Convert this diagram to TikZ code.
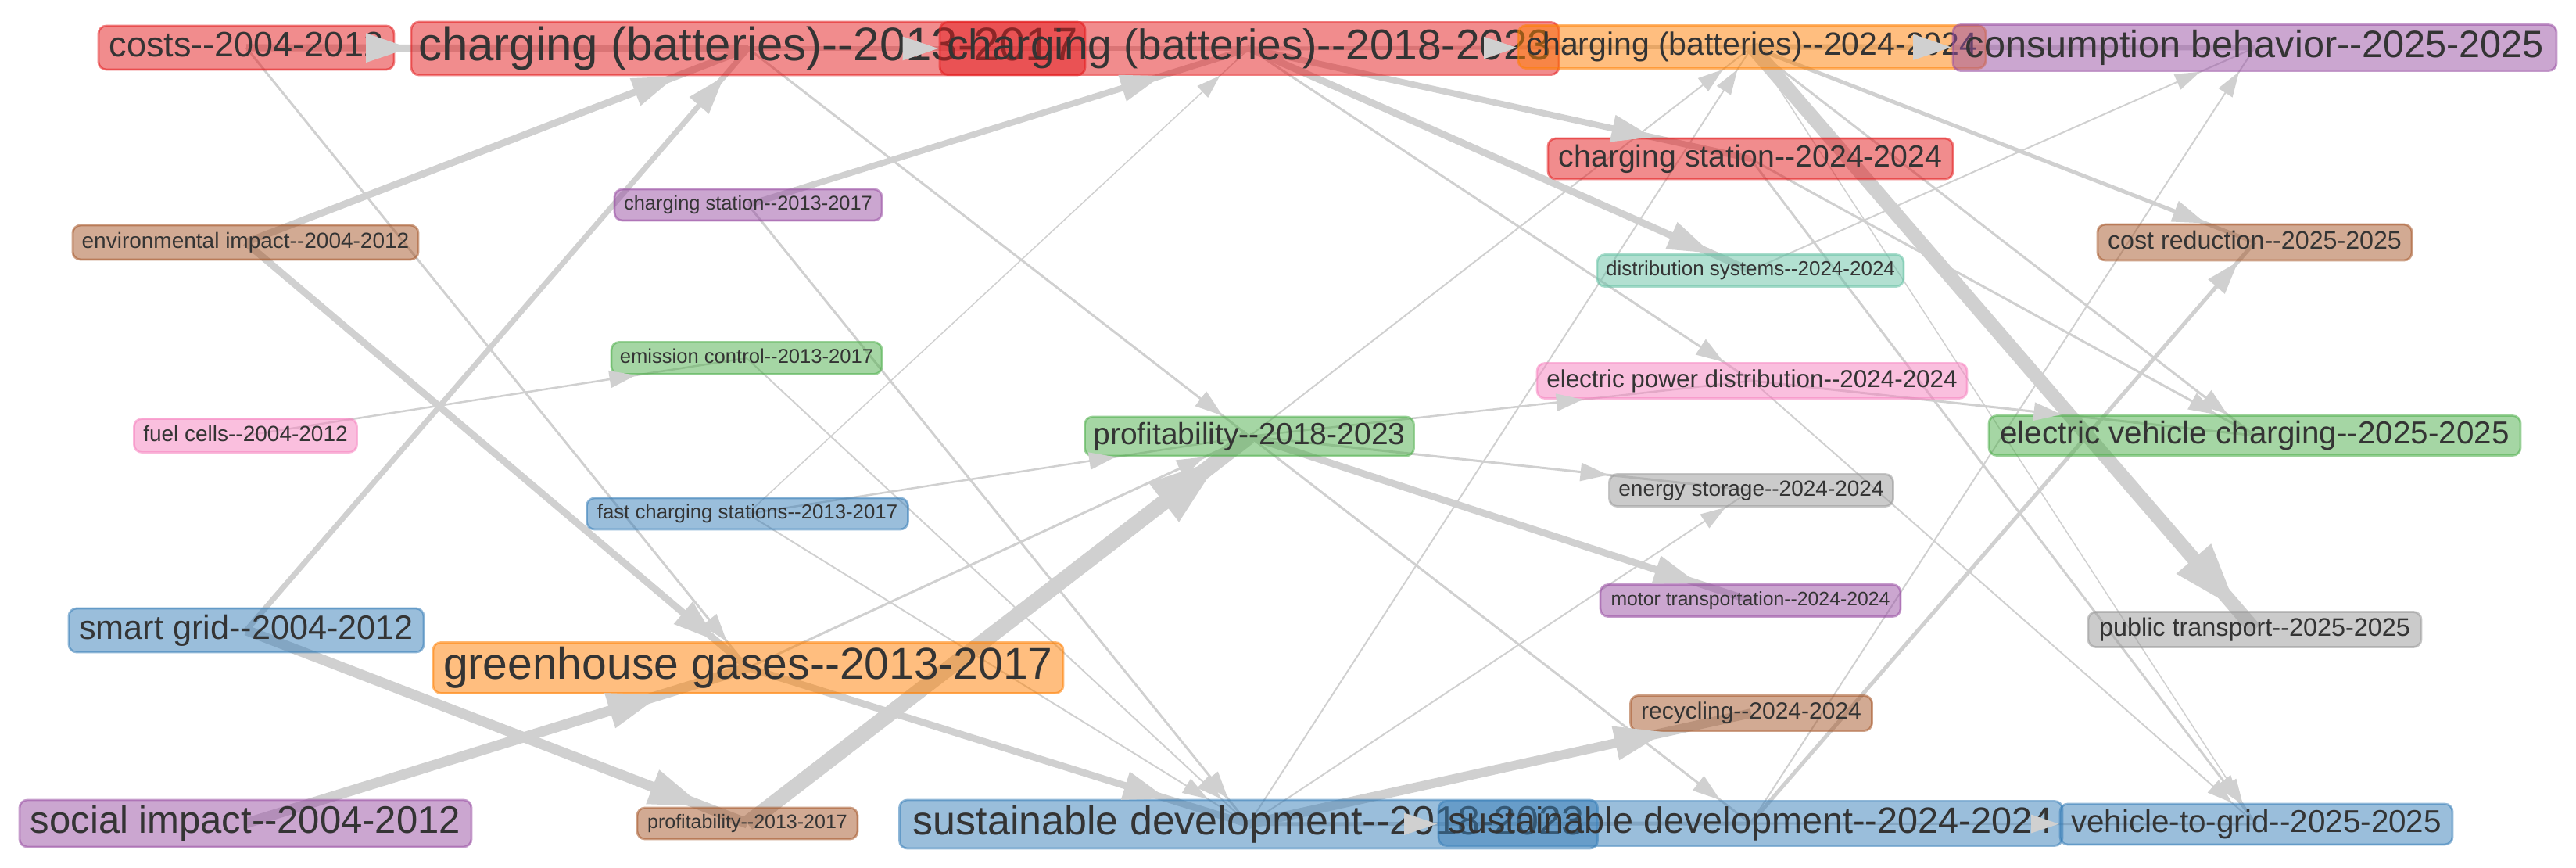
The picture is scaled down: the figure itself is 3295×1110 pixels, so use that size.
\documentclass[tikz,border=0pt]{standalone}
\usepackage{fontspec}
\setmainfont{Liberation Sans}[Ligatures=TeXOff]
\usetikzlibrary{arrows.meta,calc}
\pgfdeclarelayer{bg}
\pgfdeclarelayer{fg}
\pgfsetlayers{bg,main,fg}
\definecolor{sred}{HTML}{E41A1C}
\definecolor{sblue}{HTML}{377EB8}
\definecolor{sgreen}{HTML}{4DAF4A}
\definecolor{spurple}{HTML}{984EA3}
\definecolor{sorange}{HTML}{FF7F00}
\definecolor{sbrown}{HTML}{A65628}
\definecolor{spink}{HTML}{F781BF}
\definecolor{sgrey}{HTML}{999999}
\definecolor{steal}{HTML}{66C2A5}
\definecolor{txt}{HTML}{343434}
\definecolor{edgec}{RGB}{208,208,208}
\tikzset{
  kw/.style={rectangle, rounded corners=2.5pt, inner sep=0pt, line width=0.7pt,
    fill opacity=0.5, draw opacity=0.55, text opacity=1, text=txt},
  sz/.style 2 args={minimum width=#1*0.25pt, minimum height=#2*0.25pt},
  fs/.style={font=\fontsize{#1}{#1}\selectfont},
  nred/.style={kw, fill=sred, draw=sred},
  nblue/.style={kw, fill=sblue, draw=sblue},
  ngreen/.style={kw, fill=sgreen, draw=sgreen},
  npurple/.style={kw, fill=spurple, draw=spurple},
  norange/.style={kw, fill=sorange, draw=sorange},
  nbrown/.style={kw, fill=sbrown, draw=sbrown},
  npink/.style={kw, fill=spink, draw=spink},
  ngrey/.style={kw, fill=sgrey, draw=sgrey},
  nteal/.style={kw, fill=steal, draw=steal},
  edgeline/.style={draw=edgec, fill=edgec},
}
\newcommand\kwedge[3]{%
  \pgfmathsetmacro\ew{#1*0.25}%
  \pgfmathsetmacro\al{(25+3.5*#1)*0.25}%
  \pgfmathsetmacro\aw{(17+2*#1)*0.25}%
  \begin{pgfonlayer}{bg}\draw[edgeline, line width=\ew pt] (#2.center) -- (#3.center);\end{pgfonlayer}%
  \begin{pgfonlayer}{fg}\path (#2) -- (#3) coordinate[pos=1] (tip);%
  \draw[edgeline, line width=\ew pt, -{Triangle[length=\al pt, width=\aw pt]}] ($(tip)!\al pt!(#2.center)$) -- (tip);\end{pgfonlayer}}
\begin{document}
\begin{tikzpicture}[x=0.25pt, y=-0.25pt]
\useasboundingbox (0,0) rectangle (3295,1110);
\begin{pgfonlayer}{bg}\fill[white] (0,0) rectangle (3295,1110);\end{pgfonlayer}
% column 1
\node[nred, sz={378}{56}, fs=11.25pt] (A) at (315,61) {\vphantom{(}costs--2004-2012};
\node[nbrown, sz={442}{44}, fs=7pt] (G) at (314,310) {\vphantom{(}environmental impact--2004-2012};
\node[npink, sz={285}{43}, fs=7pt] (L) at (314,557) {\vphantom{(}fuel cells--2004-2012};
\node[nblue, sz={454}{56}, fs=10.8pt] (R) at (315,806) {\vphantom{(}smart grid--2004-2012};
\node[npurple, sz={578}{60}, fs=12.25pt] (W) at (314,1053) {\vphantom{(}social impact--2004-2012};
% column 2
\node[nred, sz={862}{68}, fs=15pt] (B) at (957,62) {\vphantom{(}charging (batteries)--2013-2017};
\node[npurple, sz={342}{40}, fs=6.35pt] (H) at (957,262) {\vphantom{(}charging station--2013-2017};
\node[ngreen, sz={346}{41}, fs=6.4pt] (K) at (955,458) {\vphantom{(}emission control--2013-2017};
\node[nblue, sz={411}{40}, fs=6.45pt] (P) at (956,657) {\vphantom{(}fast charging stations--2013-2017};
\node[norange, sz={806}{65}, fs=14.25pt] (S) at (957,854) {\vphantom{(}greenhouse gases--2013-2017};
\node[nbrown, sz={282}{40}, fs=6.25pt] (X) at (956,1053) {\vphantom{(}profitability--2013-2017};
% column 3
\node[nred, sz={792}{67}, fs=13.75pt] (C) at (1598,62) {\vphantom{(}charging (batteries)--2018-2023};
\node[ngreen, sz={421}{50}, fs=9.75pt] (N) at (1598,558) {\vphantom{(}profitability--2018-2023};
\node[nblue, sz={893}{62}, fs=13pt] (Y) at (1597,1054) {\vphantom{(}sustainable development--2018-2023};
% column 4
\node[norange, sz={598}{55}, fs=10.25pt] (D) at (2241,60) {\vphantom{(}charging (batteries)--2024-2024};
\node[nred, sz={518}{52}, fs=9.8pt] (F) at (2239,203) {\vphantom{(}charging station--2024-2024};
\node[nteal, sz={392}{41}, fs=6.5pt] (I) at (2239,346) {\vphantom{(}distribution systems--2024-2024};
\node[npink, sz={550}{45}, fs=7.85pt] (M) at (2241,487) {\vphantom{(}electric power distribution--2024-2024};
\node[ngrey, sz={363}{41}, fs=7pt] (Q) at (2240,627) {\vphantom{(}energy storage--2024-2024};
\node[npurple, sz={384}{41}, fs=6.2pt] (T) at (2239,768) {\vphantom{(}motor transportation--2024-2024};
\node[nbrown, sz={309}{45}, fs=7.5pt] (V) at (2240,912) {\vphantom{(}recycling--2024-2024};
\node[nblue, sz={798}{57}, fs=11.7pt] (Z) at (2239,1053) {\vphantom{(}sustainable development--2024-2024};
% column 5
\node[npurple, sz={772}{59}, fs=12.15pt] (E) at (2884,61) {\vphantom{(}consumption behavior--2025-2025};
\node[nbrown, sz={402}{46}, fs=8.05pt] (J) at (2884,310) {\vphantom{(}cost reduction--2025-2025};
\node[ngreen, sz={680}{51}, fs=10.1pt] (O) at (2884,557) {\vphantom{(}electric vehicle charging--2025-2025};
\node[ngrey, sz={426}{45}, fs=8.1pt] (U) at (2884,805) {\vphantom{(}public transport--2025-2025};
\node[nblue, sz={502}{52}, fs=10.1pt] (AA) at (2886,1054) {\vphantom{(}vehicle-to-grid--2025-2025};
% edges
\kwedge{9}{A}{B}
\kwedge{3}{A}{S}
\kwedge{6}{B}{C}
\kwedge{3}{B}{N}
\kwedge{5}{C}{D}
\kwedge{8}{C}{F}
\kwedge{9}{C}{I}
\kwedge{3}{C}{M}
\kwedge{7}{D}{E}
\kwedge{5}{D}{J}
\kwedge{18}{D}{U}
\kwedge{3}{D}{O}
\kwedge{1.5}{D}{AA}
\kwedge{3}{F}{O}
\kwedge{3}{F}{AA}
\kwedge{9}{G}{B}
\kwedge{9}{G}{S}
\kwedge{8}{H}{C}
\kwedge{3}{H}{Y}
\kwedge{2}{I}{E}
\kwedge{2}{K}{Y}
\kwedge{2.5}{L}{K}
\kwedge{3}{M}{O}
\kwedge{2}{M}{AA}
\kwedge{2.5}{N}{M}
\kwedge{3}{N}{Q}
\kwedge{9}{N}{T}
\kwedge{3}{N}{Z}
\kwedge{2}{N}{D}
\kwedge{1.5}{P}{C}
\kwedge{2.5}{P}{N}
\kwedge{2}{P}{Y}
\kwedge{7}{R}{B}
\kwedge{13}{R}{X}
\kwedge{3}{S}{N}
\kwedge{9}{S}{Y}
\kwedge{13}{W}{S}
\kwedge{20}{X}{N}
\kwedge{5}{Y}{Z}
\kwedge{12}{Y}{V}
\kwedge{2}{Y}{D}
\kwedge{2}{Y}{Q}
\kwedge{3}{Z}{AA}
\kwedge{5}{Z}{J}
\kwedge{2}{Z}{E}
\end{tikzpicture}
\end{document}
